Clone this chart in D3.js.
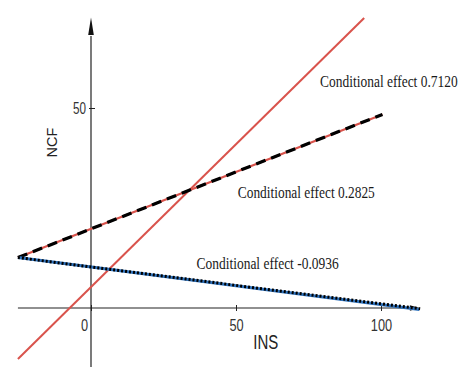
<!DOCTYPE html>
<html>
<head>
<meta charset="utf-8">
<script src="https://cdn.jsdelivr.net/npm/d3@7"></script>
<style>
    body { margin: 0; background: #fff; }
    svg { display: block; }
</style>
</head>
<body>
<div id="chart"></div>
<script>
// Values
var insTicks = [0, 50, 100];
var ncfTicks = [50];

// three conditional-effect lines (start / end points)
var steepIns = [-25.2, 94.2];
var steepNcf = [-12.75, 72.5];
var midIns = [-25.2, 100.5];
var midNcf = [12.6, 48.4];
var lowIns = [-25.2, 113.5];
var lowNcf = [12.6, -0.2];

var effectLabels = ["Conditional effect 0.7120", "Conditional effect 0.2825", "Conditional effect -0.0936"];

function renderChart() {
    var width = 475,
        height = 367;

    var svg = d3.select("#chart")
        .append("svg")
        .attr("width", width)
        .attr("height", height);

    var x = d3.scaleLinear().domain([0, 100]).range([91, 381]);
    var y = d3.scaleLinear().domain([0, 50]).range([308, 108]);

    function pts(a, b) {
        return a.map(function(d, i) {
            return [d, b[i]];
        });
    }

    var line = d3.line()
        .x(function(d) { return x(d[0]); })
        .y(function(d) { return y(d[1]); });

    // X axis
    var xAxis = svg.append("g")
        .attr("transform", "translate(0," + y(0) + ")")
        .call(d3.axisBottom(x).tickValues(insTicks).tickSize(3).tickPadding(9));
    xAxis.select(".domain").remove();
    xAxis.selectAll(".tick line").attr("y1", -3).attr("stroke", "#222");
    xAxis.selectAll(".tick text")
        .attr("font-family", "Liberation Sans, Arial, sans-serif")
        .attr("font-size", 16)
        .attr("fill", "#333")
        .attr("dx", function(d) { return d === 0 ? -7 : 0; })
        .attr("textLength", function(d) { return String(d).length * 7.1; })
        .attr("lengthAdjust", "spacingAndGlyphs");

    svg.append("line")
        .attr("x1", x(-25.2))
        .attr("x2", x(110))
        .attr("y1", y(0))
        .attr("y2", y(0))
        .attr("stroke", "#222")
        .attr("stroke-width", 1.2);
    svg.append("path")
        .attr("d", "M" + x(113.4) + "," + y(0) + "l-10,-2.8l0,5.6z")
        .attr("fill", "#111");

    // Y axis
    var yAxis = svg.append("g")
        .attr("transform", "translate(" + x(0) + ",0)")
        .call(d3.axisLeft(y).tickValues(ncfTicks).tickSize(2).tickPadding(3));
    yAxis.select(".domain").remove();
    yAxis.selectAll(".tick line").attr("x1", 4).attr("stroke", "#222");
    yAxis.selectAll(".tick text")
        .attr("font-family", "Liberation Sans, Arial, sans-serif")
        .attr("font-size", 16)
        .attr("fill", "#333")
        .attr("textLength", 13)
        .attr("lengthAdjust", "spacingAndGlyphs");

    svg.append("line")
        .attr("x1", x(0))
        .attr("x2", x(0))
        .attr("y1", y(-14.75))
        .attr("y2", y(68))
        .attr("stroke", "#222")
        .attr("stroke-width", 1.2);
    svg.append("path")
        .attr("d", "M" + x(0) + "," + y(72.6) + "l-2.8,17.5l5.6,0z")
        .attr("fill", "#111");

    // axis titles
    svg.append("text")
        .attr("transform", "translate(57,142.5) rotate(-90)")
        .attr("text-anchor", "middle")
        .attr("font-family", "Liberation Sans, Arial, sans-serif")
        .attr("font-size", 14.5)
        .attr("fill", "#222")
        .text("NCF");

    svg.append("text")
        .attr("x", 253.3)
        .attr("y", 349.3)
        .attr("font-family", "Liberation Sans, Arial, sans-serif")
        .attr("font-size", 19.5)
        .attr("fill", "#222")
        .attr("textLength", 25)
        .attr("lengthAdjust", "spacingAndGlyphs")
        .text("INS");

    // lines
    svg.append("path")
        .attr("d", line(pts(steepIns, steepNcf)))
        .attr("fill", "none")
        .attr("stroke", "#d9534c")
        .attr("stroke-width", 2);

    svg.append("path")
        .attr("d", line(pts(midIns, midNcf)))
        .attr("fill", "none")
        .attr("stroke", "#d9534c")
        .attr("stroke-width", 2.2);
    svg.append("path")
        .attr("d", line(pts(midIns, midNcf)))
        .attr("fill", "none")
        .attr("stroke", "#000")
        .attr("stroke-width", 3.2)
        .attr("stroke-dasharray", "10,6");

    svg.append("path")
        .attr("d", line(pts([lowIns[0], 113.2], [lowNcf[0], -0.4])))
        .attr("fill", "none")
        .attr("stroke", "#2e72bd")
        .attr("stroke-width", 3);
    svg.append("path")
        .attr("d", line(pts(lowIns, lowNcf)))
        .attr("fill", "none")
        .attr("stroke", "#000")
        .attr("stroke-width", 3)
        .attr("stroke-dasharray", "2,2");

    // effect labels, squeezed horizontally like the source picture
    var labelPos = [[79.0, 55.2, 137.7], [50.6, 27.4, 137.3], [36.4, 9.7, 142.3]];
    var labels = svg.selectAll("g.effect")
        .data(effectLabels)
        .enter()
        .append("g")
        .attr("class", "effect")
        .attr("transform", function(d, i) {
            return "translate(" + x(labelPos[i][0]) + "," + y(labelPos[i][1]) + ")";
        });

    labels.append("text")
        .attr("font-family", "Liberation Serif, serif")
        .attr("font-size", 16.5)
        .attr("fill", "#1a1a1a")
        .text(function(d) { return d; })
        .attr("transform", function(d, i) {
            var w = this.getComputedTextLength();
            return "scale(" + (labelPos[i][2] / w) + ",1)";
        });
}

renderChart();
</script>
</body>
</html>
